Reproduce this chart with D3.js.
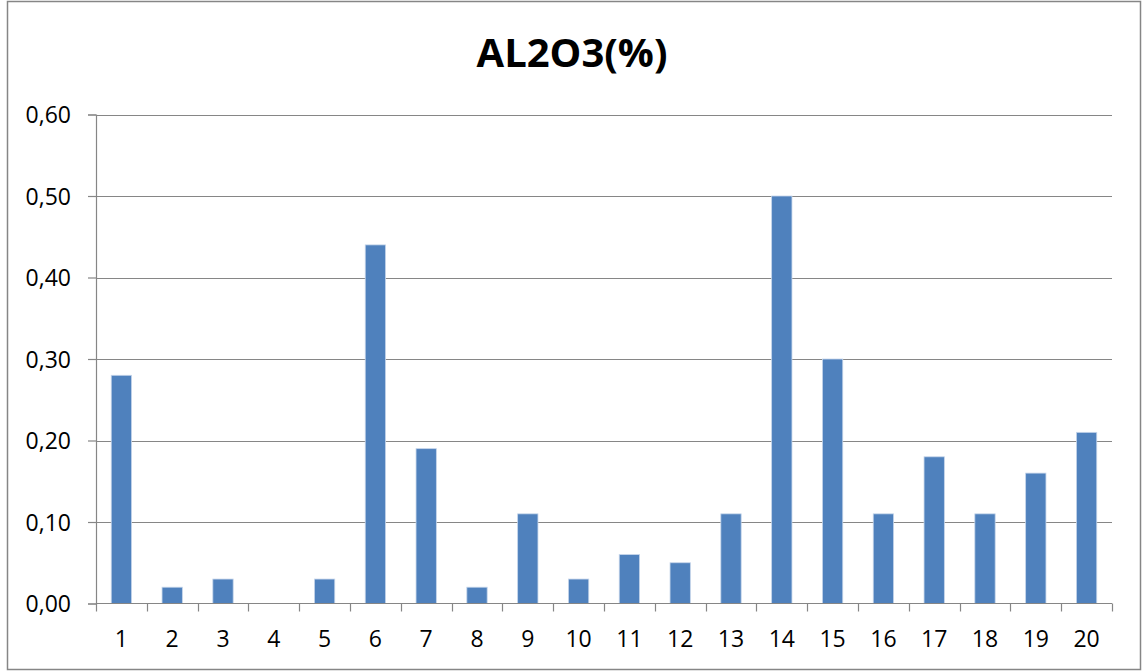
<!DOCTYPE html>
<html>
<head>
<meta charset="utf-8">
<script src="https://cdn.jsdelivr.net/npm/d3@7/dist/d3.min.js"></script>
<style>
  html, body { margin: 0; padding: 0; background: #fff; }
  svg { display: block; }
  text { font-family: "Open Sans", "Noto Sans", sans-serif; fill: #000; }
</style>
</head>
<body>
<script>
const categories = ["1","2","3","4","5","6","7","8","9","10","11","12","13","14","15","16","17","18","19","20"]
const values = [0.28, 0.02, 0.03, 0, 0.03, 0.44, 0.19, 0.02, 0.11, 0.03, 0.06, 0.05, 0.11, 0.50, 0.30, 0.11, 0.18, 0.11, 0.16, 0.21]
const yTicks = [0, 0.1, 0.2, 0.3, 0.4, 0.5, 0.6]
const title = "AL2O3(%)"

const width = 1148
const height = 671
const margin = { left: 96, right: 1112, top: 114.5, bottom: 603.5 }

const svg = d3.select("body")
    .append("svg")
    .attr("xmlns", "http://www.w3.org/2000/svg")
    .attr("width", width)
    .attr("height", height)

// chart border
svg.append("rect")
    .attr("x", 7.5).attr("y", 1.5)
    .attr("width", 1133).attr("height", 668)
    .attr("fill", "#fff")
    .attr("stroke", "#868686")
    .attr("stroke-width", 1.5)

const x = d3.scaleBand()
    .domain(categories)
    .range([margin.left, margin.right])
    .paddingInner(0.6)
    .paddingOuter(0.3)

const xEdges = d3.scaleLinear()
    .domain([0, categories.length])
    .range([margin.left, margin.right])

const y = d3.scaleLinear()
    .domain([0, 0.6])
    .range([margin.bottom, margin.top])

// gridlines
svg.append("g")
    .selectAll("line")
    .data(yTicks.filter(d => d > 0))
    .enter().append("line")
    .attr("x1", margin.left).attr("x2", margin.right)
    .attr("y1", d => Math.round(y(d)) + 0.5)
    .attr("y2", d => Math.round(y(d)) + 0.5)
    .style("stroke", "#868686")
    .style("stroke-width", 1.2)

// y axis
const yAxis = svg.append("g")
    .attr("transform", `translate(${margin.left},0)`)
    .call(d3.axisLeft(y).tickValues(yTicks).tickSize(8).tickPadding(17)
        .tickFormat(d => d3.format(".2f")(d).replace(".", ",")))
yAxis.select(".domain").style("stroke", "#868686").style("stroke-width", 1.2)
yAxis.selectAll(".tick line").style("stroke", "#868686").style("stroke-width", 1.2)
yAxis.selectAll("text").style("font-size", "23px").attr("dy", "0.36em")

// bars
svg.append("g")
    .selectAll("rect")
    .data(values)
    .enter().append("rect")
    .attr("x", (d, i) => x(categories[i]))
    .attr("width", x.bandwidth())
    .attr("y", d => y(d))
    .attr("height", d => y(0) - y(d))
    .style("fill", "#4F81BD")
    .style("stroke", "#c5d5ea")
    .style("stroke-width", 0.8)

// x axis
const xAxis = svg.append("g")
    .attr("transform", `translate(0,${margin.bottom})`)
xAxis.append("line")
    .attr("x1", margin.left).attr("x2", margin.right)
    .attr("y1", 0).attr("y2", 0)
    .style("stroke", "#868686").style("stroke-width", 1.2)
xAxis.selectAll(".xt")
    .data(d3.range(categories.length + 1))
    .enter().append("line")
    .attr("class", "xt")
    .attr("x1", d => Math.round(xEdges(d)) + 0.5)
    .attr("x2", d => Math.round(xEdges(d)) + 0.5)
    .attr("y1", 0).attr("y2", 8)
    .style("stroke", "#868686").style("stroke-width", 1.2)
xAxis.selectAll("text")
    .data(categories)
    .enter().append("text")
    .attr("x", d => x(d) + x.bandwidth() / 2)
    .attr("y", 43)
    .attr("text-anchor", "middle")
    .style("font-size", "23px")
    .text(d => d)

// title
svg.append("text")
    .attr("x", 572)
    .attr("y", 67)
    .attr("text-anchor", "middle")
    .style("font-size", "40px")
    .style("font-weight", "bold")
    .text(title)
</script>
</body>
</html>
